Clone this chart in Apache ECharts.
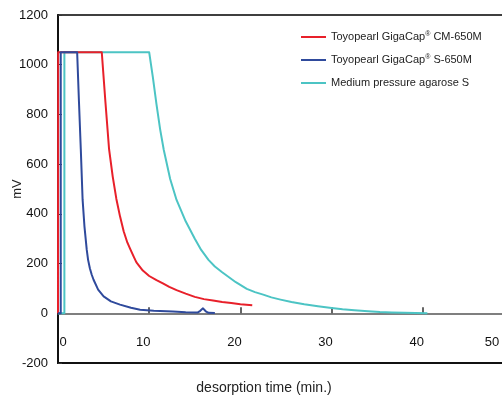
<!DOCTYPE html>
<html>
<head>
<meta charset="utf-8">
<script src="https://cdn.jsdelivr.net/npm/echarts@6/dist/echarts.min.js"></script>
<style>html,body{margin:0;padding:0;background:#fff;}#c{width:502px;height:396px;}</style>
</head>
<body>
<div id="c"></div>
<script>
const seriesNames = ['Toyopearl GigaCap® CM-650M', 'Toyopearl GigaCap® S-650M', 'Medium pressure agarose S'];
const cm650 = [[0,0],[0.02,1050],[4.8,1050],[5.2,850],[5.6,660],[6.0,550],[6.4,460],[6.8,390],[7.2,330],[7.6,285],[7.9,260],[8.3,228],[8.6,205],[9.3,172],[10,150],[10.8,133],[11.5,120],[12.2,106],[13,93],[14,79],[15,66],[16,57],[17,51],[18,45],[19,41],[20,36],[21.3,32]];
const s650 = [[0,0],[0.3,0],[0.3,1050],[2.1,1050],[2.3,850],[2.5,660],[2.7,456],[2.9,350],[3.15,256],[3.3,215],[3.5,180],[3.7,155],[3.9,135],[4.4,95],[5,68],[5.8,48],[6.8,35],[8,22],[9,14],[10.5,10],[12.6,7],[14,4],[15.3,3],[15.6,10],[15.9,20],[16.2,8],[16.5,2],[17.2,1]];
const agarose = [[0,0],[0.7,0],[0.7,1050],[10,1050],[10.4,950],[10.8,840],[11.2,740],[11.6,657],[12.3,540],[13,456],[14,370],[15,300],[15.7,255],[16.5,215],[17.2,188],[18,165],[19.5,125],[20.7,98],[21.6,85],[22.5,75],[23.4,64],[24.4,55],[25.6,45],[27,36],[28.5,28],[30,21],[31.2,16],[32.5,12],[34,8],[35.3,5],[36.6,3.5],[38,2],[39.2,1],[40.5,0]];
const xTicks = [0, 10, 20, 30, 40, 50];
const yTicks = [-200, 0, 200, 400, 600, 800, 1000, 1200];
const colors = ['#e8202a', '#2f4a9c', '#4cc4c4'];

const font = "'Liberation Sans', Arial, sans-serif";
const chart = echarts.init(document.getElementById('c'));
const xRich = {
  p0: {padding: [0, 0, 0, 10], fontFamily: font, fontSize: 13, color: '#111'},
  pm: {padding: [0, 12, 0, 0], fontFamily: font, fontSize: 13, color: '#111'},
  p50: {padding: [0, 44, 0, 0], fontFamily: font, fontSize: 13, color: '#111'}
};
const linePath = 'path://M0,0 L25,0 L25,2 L0,2 Z';
chart.setOption({
  animation: false,
  color: colors,
  textStyle: {fontFamily: font},
  grid: {left: 58, right: -12, top: 15, bottom: 33, containLabel: false, outerBoundsMode: 'none', show: true, borderColor: '#000', borderWidth: 1.5, backgroundColor: 'transparent'},
  legend: {
    orient: 'vertical', left: 301, top: 30, padding: 0, itemWidth: 25, itemHeight: 2.5, itemGap: 9,
    icon: linePath,
    selectedMode: false,
    data: seriesNames,
    formatter: n => n.replace('®', '{sup|®}'),
    textStyle: {fontFamily: font, fontSize: 11, lineHeight: 14, color: '#222',
      rich: {sup: {fontSize: 7, fontFamily: font, color: '#222', padding: [0, 0, 5, 0]}}}
  },
  xAxis: [{
    type: 'value', min: xTicks[0], max: xTicks[xTicks.length - 1], interval: 10,
    position: 'bottom',
    axisLine: {onZero: false, lineStyle: {color: '#111', width: 2}},
    axisTick: {show: false},
    splitLine: {show: false},
    axisLabel: {inside: true, margin: 14, formatter: v => v === 0 ? '{p0|0}' : (v === 50 ? '{p50|50}' : '{pm|' + v + '}'), rich: xRich},
    name: 'desorption time (min.)', nameLocation: 'middle', nameGap: 18, nameMoveOverlap: false,
    nameTextStyle: {fontFamily: font, fontSize: 14, color: '#222', padding: [0, 44, 0, 0]}
  }, {
    type: 'value', min: xTicks[0], max: xTicks[xTicks.length - 1], interval: 10,
    position: 'bottom',
    axisLine: {onZero: true, lineStyle: {color: '#555', width: 1.5}},
    axisTick: {show: true, inside: true, length: 6, lineStyle: {color: '#333', width: 1.5}},
    axisLabel: {show: false},
    splitLine: {show: false}
  }],
  yAxis: {
    type: 'value', min: yTicks[0], max: yTicks[yTicks.length - 1], interval: 200,
    axisLine: {show: true, lineStyle: {color: '#111', width: 2}},
    axisTick: {show: true, inside: true, length: 4, lineStyle: {color: '#333'}},
    splitLine: {show: false},
    axisLabel: {margin: 10, fontFamily: font, fontSize: 13, color: '#111', formatter: v => String(v)},
    name: 'mV', nameLocation: 'middle', nameGap: 34, nameMoveOverlap: false,
    nameTextStyle: {fontFamily: font, fontSize: 13, color: '#222'}
  },
  series: [
    {name: seriesNames[0], type: 'line', data: cm650, symbol: 'none', lineStyle: {width: 2, join: 'round'}, xAxisIndex: 0, z: 3},
    {name: seriesNames[1], type: 'line', data: s650, symbol: 'none', lineStyle: {width: 2, join: 'round'}, xAxisIndex: 0, z: 4},
    {name: seriesNames[2], type: 'line', data: agarose, symbol: 'none', lineStyle: {width: 2, join: 'round'}, xAxisIndex: 0, z: 2}
  ]
});
</script>
</body>
</html>
